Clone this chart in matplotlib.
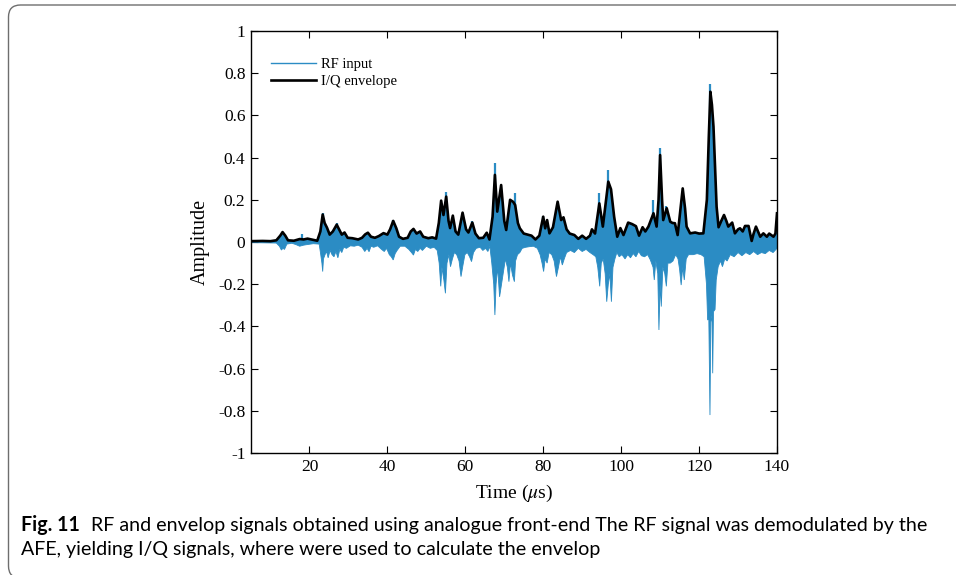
import numpy as np
import matplotlib
matplotlib.use('Agg')
import matplotlib.pyplot as plt
from matplotlib.lines import Line2D
from matplotlib.patches import FancyBboxPatch
from matplotlib.transforms import IdentityTransform
from matplotlib.ticker import FormatStrFormatter

# I/Q envelope (time in us, amplitude)
env_t = [5.0, 8.0, 10.0, 11.5, 12.5, 13.1, 13.8, 14.5, 16.0, 17.5, 18.5, 19.5, 20.5, 22.0,
         22.8, 23.4, 23.9, 24.5, 25.2, 26.0, 27.0, 27.6, 28.3, 29.0, 29.8, 31.0, 32.5, 33.5,
         34.3, 35.0, 35.8, 36.8, 37.8, 39.0, 40.0, 40.7, 41.5, 42.3, 43.0, 44.0, 45.2, 46.0,
         46.7, 47.5, 48.4, 49.2, 50.5, 51.5, 52.5, 53.2, 53.8, 54.4, 55.1, 55.7, 56.1, 56.8,
         57.5, 58.2, 59.3, 60.2, 60.8, 61.8, 62.6, 63.5, 64.6, 65.5, 66.2, 67.0, 67.6, 68.2,
         69.2, 70.0, 70.5, 71.5, 72.3, 72.8, 73.5, 74.0, 75.0, 76.0, 77.0, 78.0, 79.0, 80.0,
         80.5, 81.0, 81.6, 82.5, 83.7, 84.6, 85.2, 86.0, 86.8, 88.0, 89.0, 90.0, 91.0, 92.0,
         92.5, 93.3, 94.4, 95.3, 96.7, 97.4, 98.2, 99.0, 99.8, 100.6, 101.8, 102.8, 103.8,
         104.6, 105.5, 106.2, 107.0, 108.3, 109.1, 109.6, 110.0, 110.5, 110.8, 111.7, 112.6,
         113.2, 113.8, 114.5, 115.2, 115.8, 116.4, 116.8, 117.7, 119.0, 120.0, 121.1, 122.0,
         122.5, 122.9, 123.3, 123.7, 124.1, 124.5, 125.0, 125.7, 126.4, 127.0, 127.5, 128.5,
         129.2, 130.0, 130.5, 131.2, 131.8, 132.7, 133.5, 134.0, 134.6, 135.7, 136.5, 137.4,
         138.0, 139.1, 139.6, 140.0]
env_a = [0.004, 0.005, 0.004, 0.008, 0.03, 0.047, 0.03, 0.008, 0.006, 0.014, 0.012, 0.016, 0.012, 0.006,
         0.05, 0.13, 0.09, 0.068, 0.035, 0.05, 0.082, 0.06, 0.035, 0.045, 0.02, 0.018, 0.012, 0.02,
         0.036, 0.044, 0.025, 0.02, 0.028, 0.042, 0.035, 0.06, 0.1, 0.065, 0.025, 0.015, 0.02, 0.05,
         0.062, 0.04, 0.05, 0.025, 0.018, 0.022, 0.016, 0.09, 0.196, 0.128, 0.215, 0.1, 0.066, 0.125,
         0.05, 0.035, 0.139, 0.06, 0.045, 0.092, 0.04, 0.018, 0.02, 0.044, 0.012, 0.12, 0.318, 0.144,
         0.27, 0.1, 0.057, 0.2, 0.19, 0.175, 0.09, 0.065, 0.04, 0.035, 0.03, 0.012, 0.03, 0.12,
         0.065, 0.104, 0.041, 0.07, 0.191, 0.104, 0.117, 0.06, 0.04, 0.033, 0.015, 0.03, 0.015, 0.03,
         0.06, 0.04, 0.183, 0.073, 0.286, 0.25, 0.12, 0.025, 0.066, 0.033, 0.092, 0.085, 0.075,
         0.03, 0.07, 0.05, 0.073, 0.136, 0.073, 0.2, 0.412, 0.2, 0.104, 0.16, 0.096,
         0.09, 0.089, 0.033, 0.15, 0.254, 0.16, 0.073, 0.041, 0.045, 0.04, 0.041, 0.2,
         0.5, 0.712, 0.65, 0.546, 0.35, 0.167, 0.07, 0.1, 0.128, 0.1, 0.073, 0.092,
         0.041, 0.06, 0.065, 0.05, 0.076, 0.076, 0.005, 0.04, 0.073, 0.025, 0.041, 0.025,
         0.04, 0.025, 0.04, 0.136]

# RF input: lower (negative) excursions of the carrier
rf_low_t = [5.0, 11.5, 12.3, 12.8, 13.2, 13.6, 14.2, 15.5, 16.5, 17.5, 18.5, 19.5, 21.0, 22.5,
            22.9, 23.2, 23.4, 23.6, 24.0, 24.4, 24.8, 25.3, 25.8, 26.3, 26.8, 27.3, 27.8, 28.3,
            28.8, 29.5, 30.5, 31.5, 32.5, 33.5, 34.2, 34.8, 35.3, 35.8, 36.5, 37.5, 38.5, 39.2,
            39.8, 40.5, 41.0, 41.5, 42.0, 42.5, 43.3, 44.5, 45.5, 46.2, 46.7, 47.2, 47.8, 48.4,
            49.0, 50.0, 51.0, 52.0, 52.8, 53.3, 53.7, 54.0, 54.5, 54.9, 55.3, 55.8, 56.2, 56.7,
            57.2, 57.8, 58.4, 58.9, 59.4, 59.9, 60.5, 61.1, 61.6, 62.1, 62.8, 63.8, 64.5, 65.2,
            65.8, 66.3, 66.8, 67.3, 67.6, 67.9, 68.3, 68.8, 69.3, 69.8, 70.3, 70.8, 71.2, 71.6,
            72.1, 72.6, 72.9, 73.4, 74.0, 74.6, 75.5, 76.5, 77.5, 78.5, 79.2, 79.7, 80.1, 80.5,
            81.0, 81.5, 82.2, 82.8, 83.4, 83.9, 84.4, 84.9, 85.4, 86.0, 87.0, 88.0, 89.0, 90.0,
            91.0, 92.0, 92.8, 93.5, 94.0, 94.5, 94.9, 95.4, 95.9, 96.3, 96.7, 97.1, 97.5, 97.9,
            98.4, 98.9, 99.5, 100.2, 101.0, 101.7, 102.4, 103.1, 103.8, 104.5, 105.2, 106.0,
            106.8, 107.5, 108.2, 108.5, 108.9, 109.4, 109.7, 110.0, 110.3, 110.7, 111.2, 111.6,
            112.0, 112.6, 113.3, 114.0, 114.6, 115.0, 115.4, 115.8, 116.2, 116.7, 117.3, 118.5,
            119.5, 120.5, 121.3, 121.9, 122.2, 122.5, 122.8, 123.0, 123.3, 123.5, 123.7, 124.1,
            124.4, 124.9, 125.5, 126.0, 126.6, 127.2, 128.0, 129.0, 130.0, 131.0, 132.0, 133.0,
            134.0, 135.0, 136.0, 137.0, 138.0, 139.0, 140.0]
rf_low = [-0.003, -0.005, -0.02, -0.038, -0.03, -0.035, -0.01, -0.006, -0.012, -0.02, -0.015, -0.012, -0.008, -0.01,
          -0.06, -0.1, -0.14, -0.08, -0.06, -0.045, -0.075, -0.04, -0.06, -0.07, -0.045, -0.075, -0.035, -0.05,
          -0.025, -0.03, -0.018, -0.02, -0.015, -0.025, -0.045, -0.03, -0.046, -0.02, -0.025, -0.018, -0.035, -0.045,
          -0.03, -0.06, -0.07, -0.085, -0.055, -0.04, -0.02, -0.02, -0.035, -0.05, -0.062, -0.035, -0.045, -0.03,
          -0.04, -0.02, -0.03, -0.025, -0.04, -0.1, -0.21, -0.12, -0.18, -0.243, -0.1, -0.06, -0.117, -0.08,
          -0.05, -0.06, -0.09, -0.164, -0.11, -0.06, -0.05, -0.07, -0.093, -0.05, -0.03, -0.025, -0.04, -0.03,
          -0.045, -0.02, -0.1, -0.2, -0.346, -0.2, -0.12, -0.26, -0.2, -0.14, -0.08, -0.12, -0.188, -0.1,
          -0.156, -0.188, -0.09, -0.06, -0.05, -0.03, -0.025, -0.022, -0.02, -0.03, -0.06, -0.1, -0.14, -0.08,
          -0.1, -0.05, -0.06, -0.09, -0.164, -0.12, -0.07, -0.109, -0.08, -0.05, -0.04, -0.05, -0.03, -0.045,
          -0.035, -0.05, -0.06, -0.07, -0.12, -0.21, -0.1, -0.08, -0.15, -0.283, -0.2, -0.15, -0.283, -0.12,
          -0.08, -0.05, -0.07, -0.06, -0.08, -0.06, -0.075, -0.055, -0.07, -0.045, -0.065, -0.07,
          -0.06, -0.085, -0.12, -0.18, -0.09, -0.15, -0.417, -0.2, -0.306, -0.12, -0.15, -0.21,
          -0.1, -0.1, -0.09, -0.06, -0.08, -0.13, -0.204, -0.12, -0.18, -0.08, -0.06, -0.06,
          -0.055, -0.06, -0.07, -0.2, -0.37, -0.36, -0.82, -0.38, -0.35, -0.622, -0.33, -0.32,
          -0.18, -0.117, -0.09, -0.117, -0.08, -0.09, -0.06, -0.07, -0.05, -0.065, -0.05, -0.06,
          -0.045, -0.06, -0.05, -0.055, -0.04, -0.05, -0.03]

# RF carrier peaks that stick out above the envelope
spike_t = [18.1, 23.4, 27.0, 41.5, 55.1, 61.8, 67.6, 72.8, 80.0, 94.4, 96.7, 108.3, 110.0, 111.6, 122.9]
spike_a = [0.04, 0.137, 0.092, 0.105, 0.238, 0.1, 0.373, 0.23, 0.125, 0.23, 0.341, 0.2, 0.444, 0.17, 0.749]

xticks = [20, 40, 60, 80, 100, 120, 140]
yticks = [-1, -0.8, -0.6, -0.4, -0.2, 0, 0.2, 0.4, 0.6, 0.8, 1]

caption_bold = 'Fig. 11'
caption_line1 = 'RF and envelop signals obtained using analogue front-end The RF signal was demodulated by the'
caption_line2 = 'AFE, yielding I/Q signals, where were used to calculate the envelop'

rf_color = '#2b8cc4'

plt.rcParams['font.family'] = ['Liberation Serif', 'DejaVu Serif']
plt.rcParams['mathtext.fontset'] = 'stix'
plt.rcParams['axes.unicode_minus'] = False

W, H = 956, 575
fig = plt.figure(figsize=(W / 100, H / 100), dpi=100, facecolor='white')
ax = fig.add_axes([251 / W, 1 - 453 / H, 526 / W, 422 / H])

# RF body: envelope on top, negative excursions below
poly_x = np.concatenate([env_t, rf_low_t[::-1]])
poly_y = np.concatenate([env_a, rf_low[::-1]])
ax.fill(poly_x, poly_y, color=rf_color, lw=0.6, zorder=2)
ax.vlines(spike_t, 0, spike_a, color=rf_color, lw=1.6, zorder=2)
ax.plot(env_t, env_a, color='black', lw=1.9, zorder=3)

ax.set_xlim(5, 140)
ax.set_ylim(-1, 1)
ax.set_xticks(xticks)
ax.set_yticks(yticks)
ax.yaxis.set_major_formatter(FormatStrFormatter('%g'))
ax.tick_params(direction='in', top=True, right=True, length=5, width=0.8, labelsize=12.5, pad=4)
for s in ax.spines.values():
    s.set_linewidth(1.0)
ax.set_xlabel(r'Time ($\mu$s)', fontsize=14, labelpad=6)
ax.set_ylabel('Amplitude', fontsize=14.5, labelpad=6)

handles = [Line2D([], [], color=rf_color, lw=1.0), Line2D([], [], color='black', lw=1.9)]
ax.legend(handles, ['RF input', 'I/Q envelope'], loc='upper left', bbox_to_anchor=(0.013, 0.968),
          frameon=False, fontsize=10.5, handlelength=3.1, handletextpad=0.3, labelspacing=0.25)

# rounded frame around the figure panel (cut at the right and bottom)
frame = FancyBboxPatch((8.5, -3), 1000, 573, boxstyle='round,pad=0,rounding_size=12',
                       transform=IdentityTransform(), fill=False, edgecolor='#6e6e6e', lw=1.0)
fig.patches.append(frame)

# caption, fitted to the reference width
cap_font = ['Lato', 'DejaVu Sans']
x0 = 21 / W
y1, y2 = 1 - 525 / H, 1 - 550 / H
tb = fig.text(x0, y1, caption_bold, weight='bold', family=cap_font, fontsize=12, va='center')
t1 = fig.text(0, y1, caption_line1, family=cap_font, fontsize=12, va='center')
t2 = fig.text(x0, y2, caption_line2, family=cap_font, fontsize=12, va='center')
fig.canvas.draw()
r = fig.canvas.get_renderer()
for _ in range(2):
    bb = tb.get_window_extent(r)
    gap = 0.75 * tb.get_fontsize()
    t1.set_x((bb.x1 + gap) / W)
    fig.canvas.draw()
    total = t1.get_window_extent(r).x1 - bb.x0
    size = tb.get_fontsize() * 907 / total
    for t in (tb, t1, t2):
        t.set_fontsize(size)
    fig.canvas.draw()
bb = tb.get_window_extent(r)
t1.set_x((bb.x1 + 0.75 * tb.get_fontsize()) / W)

fig.savefig('out.png', dpi=100, facecolor='white')
